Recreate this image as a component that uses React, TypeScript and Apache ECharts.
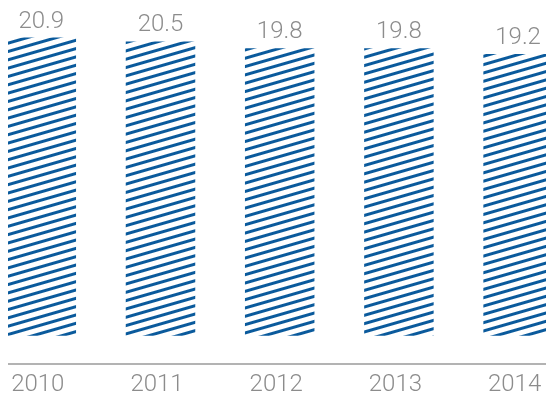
import React, { useEffect, useRef } from "react";
import * as echarts from "echarts";

const years = ["2010", "2011", "2012", "2013", "2014"];
const values = [20.9, 20.5, 19.8, 19.8, 19.2];

const BLUE = "#0a5a9c";
const GREY_TEXT = "#8c8c8c";
const GREY_LINE = "#b3b3b3";
const FONT = "Roboto";

export default function App() {
  const ref = useRef<HTMLDivElement>(null);
  useEffect(() => {
    if (!ref.current) return;
    const chart = echarts.init(ref.current, undefined, { renderer: "svg" });
    chart.setOption({
      animation: false,
      grid: {
        left: -26.3,
        width: 596,
        top: 26.9,
        bottom: 61.3,
        outerBoundsMode: "none",
        containLabel: false,
      },
      xAxis: {
        type: "category",
        data: years,
        offset: 27.6,
        axisTick: { show: false },
        axisLine: { onZero: false, lineStyle: { color: GREY_LINE, width: 2.2 } },
        axisLabel: {
          fontSize: 24,
          fontFamily: FONT,
          fontWeight: 300,
          color: GREY_TEXT,
          margin: 8,
          padding: [0, 7, 0, 0],
        },
      },
      yAxis: {
        type: "value",
        min: -10,
        max: 22,
        startValue: -10,
        show: false,
        splitLine: { show: false },
      },
      series: [
        {
          type: "bar",
          data: values,
          barWidth: 69.5,
          itemStyle: {
            color: "#ffffff",
            decal: {
              symbol: "rect",
              symbolSize: 1,
              color: BLUE,
              dashArrayX: [1, 0],
              dashArrayY: [3, 5],
              rotation: -0.28,
            },
          },
          label: {
            show: true,
            position: "top",
            distance: 6,
            fontSize: 24,
            fontFamily: FONT,
            fontWeight: 300,
            color: GREY_TEXT,
            formatter: (p: any) => p.value.toFixed(1),
          },
        },
      ],
    });
    return () => chart.dispose();
  }, []);
  return (
    <div
      ref={ref}
      style={{ position: "fixed", left: 8, top: 0, width: 538, height: 397 }}
    />
  );
}
